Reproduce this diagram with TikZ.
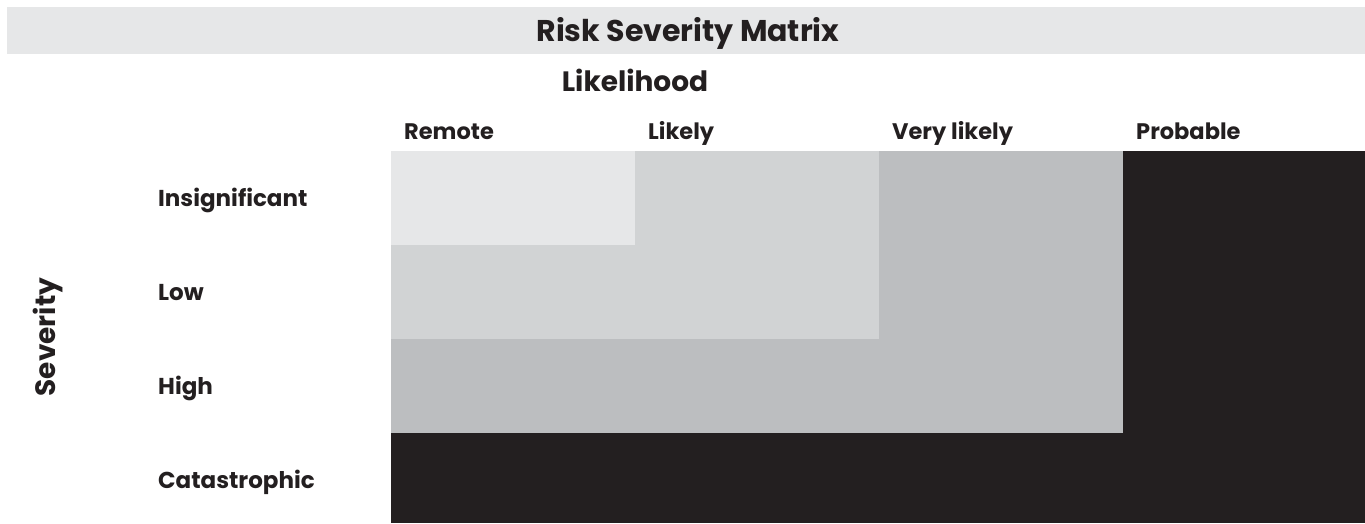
\documentclass[tikz,border=0pt]{standalone}
\usepackage{fontspec}
\setmainfont{Poppins}
\definecolor{barbg}{HTML}{E6E7E8}
\definecolor{lvA}{HTML}{E6E7E8}
\definecolor{lvB}{HTML}{D1D3D4}
\definecolor{lvC}{HTML}{BCBEC0}
\definecolor{lvD}{HTML}{231F20}
\definecolor{ink}{HTML}{231F20}
\begin{document}
\begin{tikzpicture}[x=1pt,y=-1pt,
  titletext/.style={font=\fontsize{30}{36}\selectfont\bfseries, text=ink, inner sep=0pt},
  axistext/.style={font=\fontsize{28}{33}\selectfont\bfseries, text=ink, inner sep=0pt},
  coltext/.style={font=\fontsize{22.5}{27}\selectfont\bfseries, text=ink, inner sep=0pt, anchor=base west},
  rowtext/.style={font=\fontsize{23}{27}\selectfont\bfseries, text=ink, inner sep=0pt, anchor=base west},
  cellA/.style={fill=lvA},
  cellB/.style={fill=lvB},
  cellC/.style={fill=lvC},
  cellD/.style={fill=lvD}]
\useasboundingbox (0,0) rectangle (1365,523);
\fill[barbg] (7,7) rectangle (1365,54);
\node[titletext] (title) at (688,33) {Risk Severity Matrix};
\node[axistext] (likelihood) at (635,80) {Likelihood};
\node[axistext, rotate=90] (severity) at (48,337) {Severity};
% columns
\node[coltext] (c1) at (404,139) {Remote};
\node[coltext] (c2) at (648,139) {Likely};
\node[coltext] (c3) at (892,139) {Very likely};
\node[coltext] (c4) at (1136,139) {Probable};
% rows
\node[rowtext] (r1) at (158,206) {Insignificant};
\node[rowtext] (r2) at (158,300) {Low};
\node[rowtext] (r3) at (158,394) {High};
\node[rowtext] (r4) at (158,488) {Catastrophic};
% cells
\fill[cellA] (391,151) rectangle (635,245);
\fill[cellB] (635,151) rectangle (879,245);
\fill[cellC] (879,151) rectangle (1123,245);
\fill[cellD] (1123,151) rectangle (1365,245);
\fill[cellB] (391,245) rectangle (635,339);
\fill[cellB] (635,245) rectangle (879,339);
\fill[cellC] (879,245) rectangle (1123,339);
\fill[cellD] (1123,245) rectangle (1365,339);
\fill[cellC] (391,339) rectangle (635,433);
\fill[cellC] (635,339) rectangle (879,433);
\fill[cellC] (879,339) rectangle (1123,433);
\fill[cellD] (1123,339) rectangle (1365,433);
\fill[cellD] (391,433) rectangle (1365,523);
\end{tikzpicture}
\end{document}
